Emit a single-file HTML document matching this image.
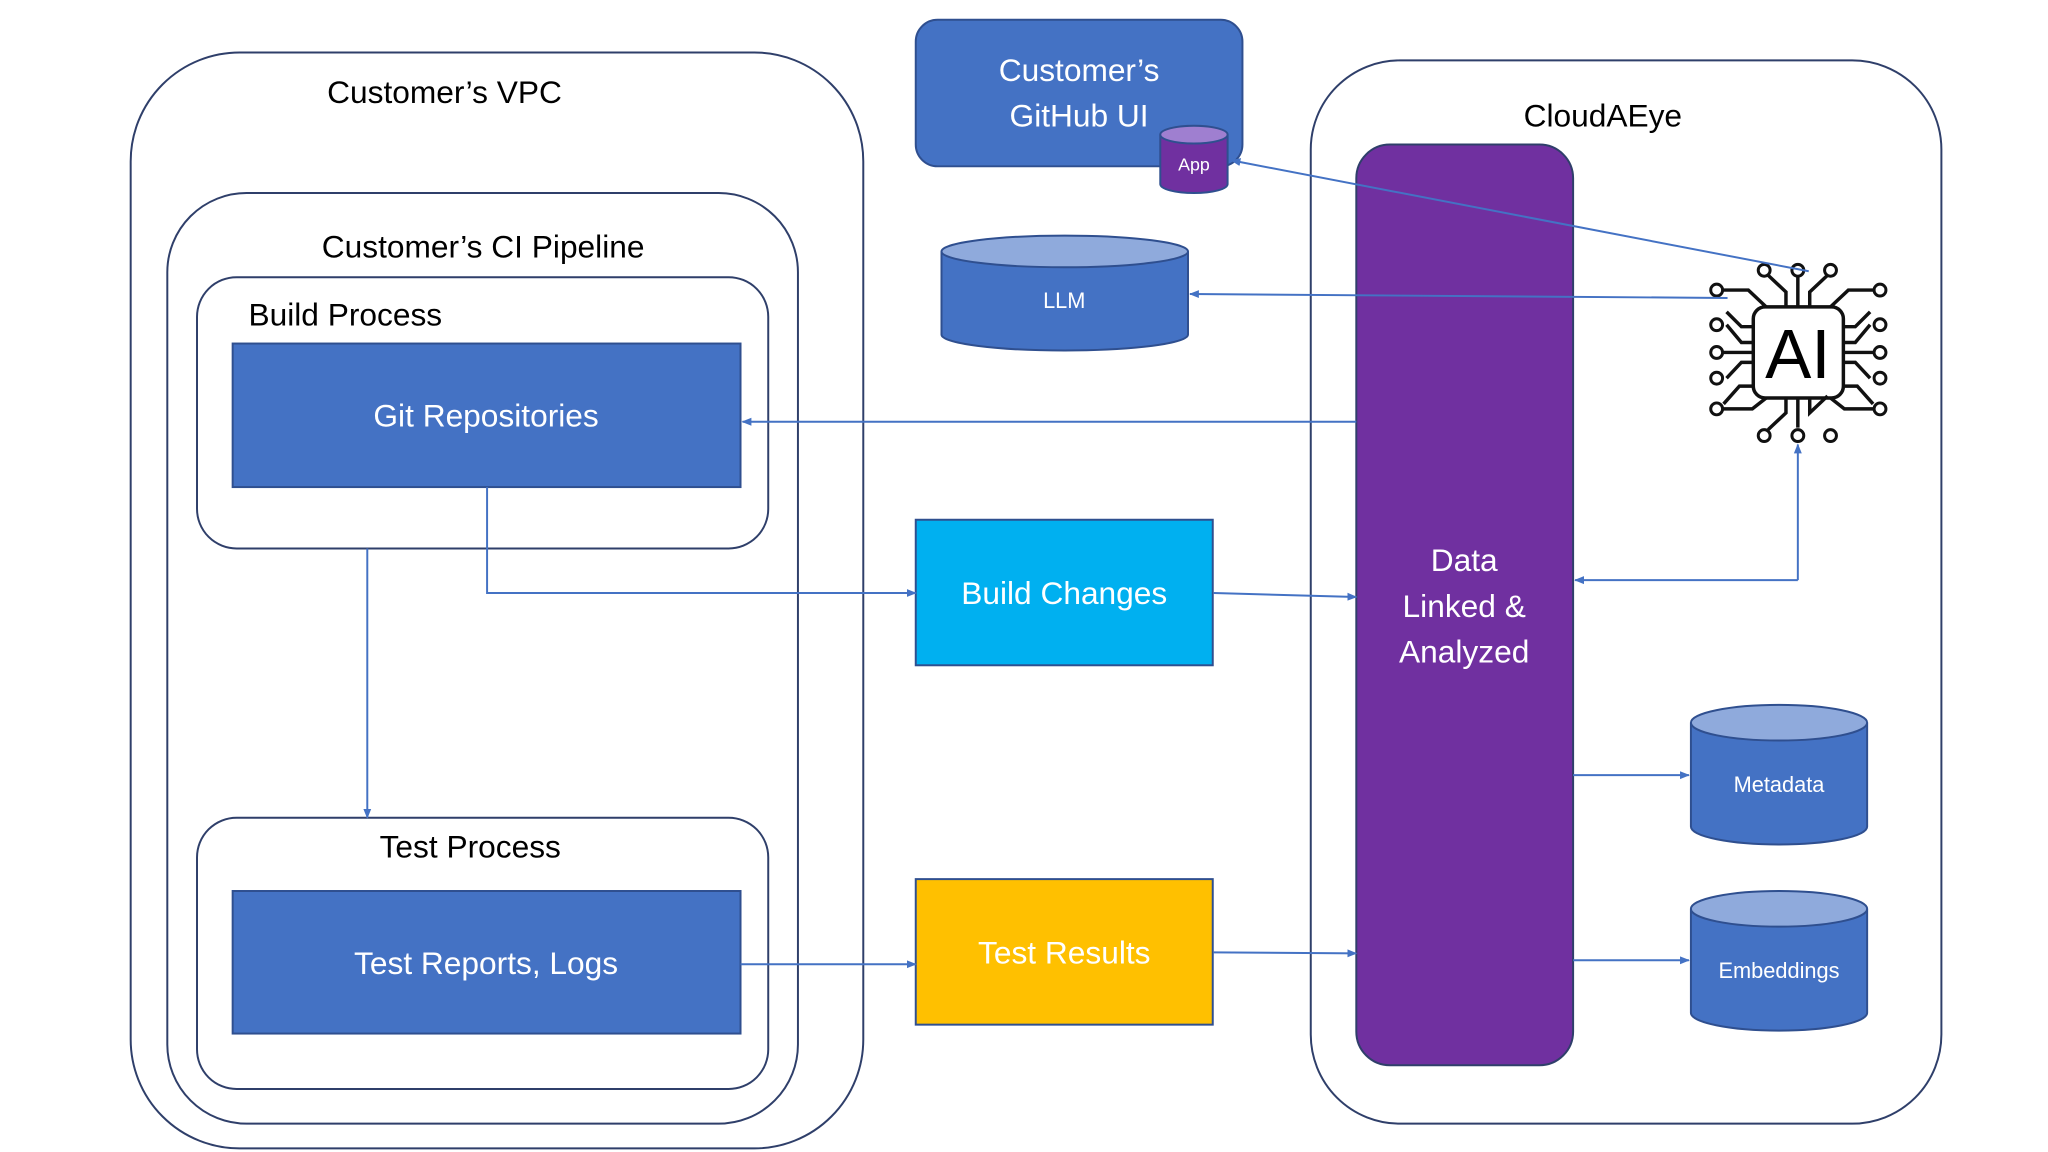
<!DOCTYPE html>
<html><head><meta charset="utf-8"><style>
html,body{margin:0;padding:0;background:#fff}
svg{display:block}
text{font-family:"Liberation Sans",sans-serif}
</style></head><body>
<svg width="2048" height="1152" viewBox="0 0 2048 1152" xmlns="http://www.w3.org/2000/svg">
<defs>
<marker id="a" markerWidth="10" markerHeight="10" refX="9" refY="5" orient="auto" markerUnits="userSpaceOnUse">
<path d="M0,1 L10,5 L0,9 z" fill="#4472c4"/></marker>
</defs>
<g transform="scale(0.99)">
<g fill="none" stroke="#2f3f6a" stroke-width="2">
<rect x="132" y="53" width="740" height="1107" rx="110"/>
<rect x="169" y="195" width="637" height="940" rx="80"/>
<rect x="199" y="280" width="577" height="274" rx="40"/>
<rect x="199" y="826" width="577" height="274" rx="40"/>
<rect x="1324" y="61" width="637" height="1074" rx="90"/>
</g>
<g font-size="32" fill="#000" text-anchor="middle">
<text x="449" y="104">Customer’s VPC</text>
<text x="488" y="260">Customer’s CI Pipeline</text>
<text x="251" y="329" text-anchor="start">Build Process</text>
<text x="475" y="866">Test Process</text>
<text x="1619" y="128">CloudAEye</text>
</g>
<rect x="235" y="347" width="513" height="145" fill="#4472c4" stroke="#2f4f8f" stroke-width="2"/>
<rect x="235" y="900" width="513" height="144" fill="#4472c4" stroke="#2f4f8f" stroke-width="2"/>
<rect x="925" y="20" width="330" height="148" rx="22" fill="#4472c4" stroke="#2f4f8f" stroke-width="2"/>
<rect x="925" y="525" width="300" height="147" fill="#00b0f0" stroke="#2f4f8f" stroke-width="2"/>
<rect x="925" y="888" width="300" height="147" fill="#ffc000" stroke="#2f4f8f" stroke-width="2"/>
<rect x="1370" y="146" width="219" height="930" rx="34" fill="#7030a0" stroke="#2f3f6a" stroke-width="2"/>
<g font-size="32" fill="#fff" text-anchor="middle">
<text x="491" y="431">Git Repositories</text>
<text x="491" y="984">Test Reports, Logs</text>
<text x="1090" y="82">Customer’s</text>
<text x="1090" y="128">GitHub UI</text>
<text x="1075" y="610">Build Changes</text>
<text x="1075" y="973">Test Results</text>
<text x="1479" y="577">Data</text>
<text x="1479" y="623">Linked &amp;</text>
<text x="1479" y="669">Analyzed</text>
</g>
<g stroke="#2f4f8f" stroke-width="2">
<path d="M951,254 v84 a124,16 0 0 0 249,0 v-84" fill="#4472c4"/>
<ellipse cx="1075.5" cy="254" rx="124.5" ry="16" fill="#8faadc"/>
<path d="M1708,730 v105 a89,18 0 0 0 178,0 v-105" fill="#4472c4"/>
<ellipse cx="1797" cy="730" rx="89" ry="18" fill="#8faadc"/>
<path d="M1708,918 v105 a89,18 0 0 0 178,0 v-105" fill="#4472c4"/>
<ellipse cx="1797" cy="918" rx="89" ry="18" fill="#8faadc"/>
<path d="M1172,136 v50 a34,9 0 0 0 68,0 v-50" fill="#7030a0"/>
<ellipse cx="1206" cy="136" rx="34" ry="9" fill="#9f7fd0"/>
</g>
<g fill="#fff" text-anchor="middle">
<text x="1075" y="311" font-size="22">LLM</text>
<text x="1797" y="800" font-size="22">Metadata</text>
<text x="1797" y="988" font-size="22">Embeddings</text>
<text x="1206" y="172" font-size="18">App</text>
</g>
<g transform="translate(19,0)">
<g fill="none" stroke="#111" stroke-width="3.5">
<rect x="1752" y="310" width="91" height="92" rx="12"/>
<path d="M1797,310 v-30 M1785,310 v-15 l-18,-17 M1809,310 v-15 l18,-17
M1797,402 v30 M1785,402 v15 l-18,17 M1809,402 v15 l18,-17
M1752,330 h-12 l-15,-15 M1752,346 h-12 l-15,-18 M1752,356 h-32 M1752,366 h-12 l-15,16 M1752,390 h-14 l-16,18 M1765,310 l-18,-17 h-27
M1843,330 h12 l15,-15 M1843,346 h12 l15,-18 M1843,356 h32 M1843,366 h12 l15,16 M1843,390 h14 l16,18 M1830,310 l18,-17 h27
M1765,402 l-14,11 h-31 M1830,402 l14,11 h31"/>
<g stroke-width="3">
<circle cx="1763" cy="273" r="6"/><circle cx="1797" cy="273" r="6"/><circle cx="1830" cy="273" r="6"/>
<circle cx="1763" cy="440" r="6"/><circle cx="1797" cy="440" r="6"/><circle cx="1830" cy="440" r="6"/>
<circle cx="1715" cy="293" r="6"/><circle cx="1715" cy="328" r="6"/><circle cx="1715" cy="356" r="6"/><circle cx="1715" cy="382" r="6"/><circle cx="1715" cy="413" r="6"/>
<circle cx="1880" cy="293" r="6"/><circle cx="1880" cy="328" r="6"/><circle cx="1880" cy="356" r="6"/><circle cx="1880" cy="382" r="6"/><circle cx="1880" cy="413" r="6"/>
</g>
</g>
<text x="1797" y="382" font-size="70" text-anchor="middle" fill="#000">AI</text>
</g>
<g fill="none" stroke="#4472c4" stroke-width="2" marker-end="url(#a)">
<path d="M1370,426 H750"/>
<path d="M492,492 V599 H925"/>
<path d="M371,554 V826"/>
<path d="M748,974 H925"/>
<path d="M1226,599 L1370,603"/>
<path d="M1226,962 L1370,963"/>
<path d="M1745,301 L1202,297"/>
<path d="M1827,274 L1244,162"/>
<path d="M1816,586 V449"/>
<path d="M1816,586 H1591"/>
<path d="M1589,783 H1706"/>
<path d="M1589,970 H1706"/>
</g>
</g>
</svg>
</body></html>
